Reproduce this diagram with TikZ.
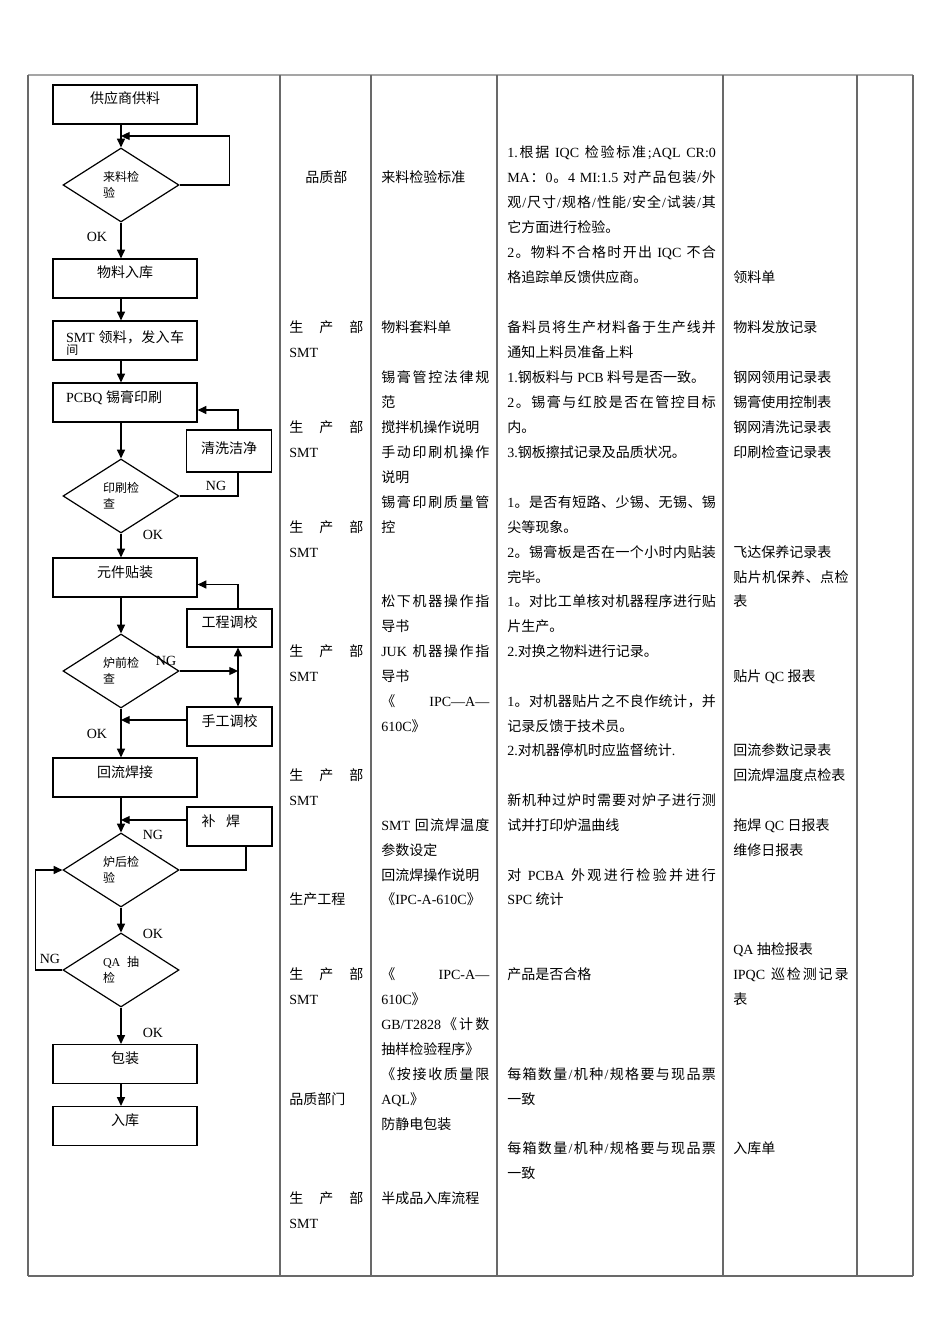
\documentclass[tikz,border=0pt]{standalone}
\usepackage{fontspec}
\setmainfont{Liberation Serif}
\newfontfamily\cjkfont{Noto Sans CJK SC}
\usepackage{xcolor}
\definecolor{grade}{RGB}{105,105,105}
\definecolor{fluxo}{RGB}{0,0,0}
\usepackage{tikz}
\usetikzlibrary{arrows.meta,shapes.geometric,positioning,calc}

\XeTeXinterchartokenstate=1
\newXeTeXintercharclass\cjkcls
\newcount\cjkc
\cjkc="2E80
\loop\XeTeXcharclass\cjkc=\cjkcls \ifnum\cjkc<"9FFF \advance\cjkc by 1 \repeat
\cjkc="FF00
\loop\XeTeXcharclass\cjkc=\cjkcls \ifnum\cjkc<"FFEF \advance\cjkc by 1 \repeat
\XeTeXinterchartoks 0 \cjkcls={\hskip0pt plus 1pt\relax\cjkfont}
\XeTeXinterchartoks 1 \cjkcls={\cjkfont}
\XeTeXinterchartoks 2 \cjkcls={\cjkfont}
\XeTeXinterchartoks 3 \cjkcls={\cjkfont}
\XeTeXinterchartoks 4095 \cjkcls={\cjkfont}
\XeTeXinterchartoks \cjkcls 0={\hskip0pt plus 1pt\relax\rmfamily}
\XeTeXinterchartoks \cjkcls 1={\rmfamily}
\XeTeXinterchartoks \cjkcls 2={\rmfamily}
\XeTeXinterchartoks \cjkcls 3={\rmfamily}
\XeTeXinterchartoks \cjkcls 4095={\rmfamily}
\XeTeXinterchartoks \cjkcls \cjkcls={\hskip0pt plus 1pt\relax}

\newcommand\tabfont{\fontsize{10.5}{18.75}\selectfont}
\newcommand\diafont{\fontsize{9}{12}\selectfont}
\newcommand\jtwo[1]{\makebox[55.5pt][s]{#1}}
\newcommand\jthree[1]{\makebox[81pt][s]{#1}}
\newcommand\jfour[1]{\makebox[156.5pt][s]{#1}}
\newcommand\jfive[1]{\makebox[86.5pt][s]{#1}}

\begin{document}
\begin{tikzpicture}[x=0.75pt,y=-0.75pt,
    grelha/.style={draw=grade, line width=0.8pt},
    caixa/.style={draw=fluxo, line width=0.9pt, minimum width=108pt, minimum height=29.25pt,
      inner sep=0pt, text height=14.25pt, text depth=15pt, font=\tabfont},
    lado/.style={caixa, minimum width=63.75pt},
    losango/.style={diamond, draw=fluxo, line width=0.9pt, minimum width=87pt,
      minimum height=55.5pt, inner sep=0pt, align=left, font=\diafont},
    seta/.style={draw=fluxo, line width=0.9pt, -{Triangle[length=6.5pt,width=6pt]}},
    setas/.style={draw=fluxo, line width=0.9pt,
      {Triangle[length=6.5pt,width=6pt]}-{Triangle[length=6.5pt,width=6pt]}},
    linha/.style={draw=fluxo, line width=0.9pt},
    rotulo/.style={inner sep=0pt, font=\tabfont},
    cel/.style={anchor=base west, inner sep=0pt, font=\tabfont}]
  \useasboundingbox (0,0) rectangle (950,1344);

  \draw[grelha, draw=grade!60] (28,75) -- (913,75);
  \draw[grelha, line width=1.2pt] (28,1276) -- (913,1276);
  \foreach \x in {28,280,371,497,723,857,913}
    \draw[grelha] (\x,75) -- (\x,1276);

  \coordinate (eixo) at (121,0);
  \coordinate (lx) at (238,0);
  \coordinate (bx) at (246,0);

  \node[caixa] (gys) at (125,104.5) {供应商供料};
  \node[losango] (llj) at (121,185) {来料检\\验};
  \node[caixa] (wlrk) at (125,278.5) {物料入库};
  \node[caixa, text height=15.75pt, text depth=13.5pt] (smt) at (125,340.5)
    {\makebox[88.5pt][s]{SMT 领料，发入车}};
  \node[cel, font=\diafont] (smtb) at (66,354.5) {间};
  \node[caixa] (pcb) at (125,402.5) {\makebox[88.5pt][l]{PCBQ 锡膏印刷}};
  \node[losango] (ysjc) at (121,496) {印刷检\\查};
  \node[lado, minimum height=31.5pt, text height=17.25pt, text depth=14.25pt] (qx) at (229,451) {清洗洁净};
  \node[caixa] (yjtz) at (125,577.5) {元件贴装};
  \node[lado, minimum height=28.5pt, text height=13.5pt, text depth=15pt] (gctj) at (229.5,628) {工程调校};
  \node[losango] (lqjc) at (121,671) {炉前检\\查};
  \node[lado] (sgtj) at (229.5,726.5) {手工调校};
  \node[caixa] (hlhj) at (125,777.5) {回流焊接};
  \node[lado] (bh) at (229.5,826.5) {\makebox[42pt][l]{补\hspace{8pt}焊}};
  \node[losango] (lhjy) at (121,870) {炉后检\\验};
  \node[losango] (qacj) at (121,970) {\makebox[27pt][s]{QA 抽}\\检};
  \node[caixa] (bz) at (125,1064) {包装};
  \node[caixa] (rk) at (125,1126) {入库};

  \coordinate (llin) at ($(gys.south -| eixo)!.5!(llj.north)$);
  \draw[seta] (gys.south -| eixo) -- (llj.north);
  \draw[seta] (llj.east) -- ++(50,0) |- (llin);
  \draw[seta] (llj.south) -- (wlrk.north -| eixo);
  \draw[seta] (wlrk.south -| eixo) -- (smt.north -| eixo);
  \draw[seta] (smt.south -| eixo) -- (pcb.north -| eixo);
  \draw[seta] (pcb.south -| eixo) -- (ysjc.north);
  \draw[linha] (ysjc.east) -| (qx.south -| lx);
  \draw[seta] (qx.north -| lx) |- ($(pcb.east)+(0,7.5)$);
  \draw[seta] (ysjc.south) -- (yjtz.north -| eixo);
  \draw[seta] (yjtz.south -| eixo) -- (lqjc.north);
  \draw[seta] (gctj.north -| lx) |- ($(yjtz.east)+(0,7)$);
  \draw[seta] (lqjc.east) -- (lqjc.east -| lx);
  \draw[setas] (gctj.south -| lx) -- (sgtj.north -| lx);
  \draw[seta] ($(sgtj.west)+(0,-6.5)$) coordinate (sgo) -- (sgo -| eixo);
  \draw[seta] (lqjc.south) -- (hlhj.north -| eixo);
  \draw[seta] (hlhj.south -| eixo) -- (lhjy.north);
  \draw[seta] ($(bh.west)+(0,-6.5)$) coordinate (bho) -- (bho -| eixo);
  \draw[linha] (lhjy.east) -| (bh.south -| bx);
  \draw[seta] (lhjy.south) -- (qacj.north);
  \draw[seta] (qacj.west) -- ++(-27,0) |- (lhjy.west);
  \draw[seta] (qacj.south) -- (bz.north -| eixo);
  \draw[seta] (bz.south -| eixo) -- (rk.north -| eixo);

  \foreach \x/\y/\t [count=\i] in {97/237/OK, 216/486/NG, 153/535/OK, 166/661/NG,
    97/734/OK, 153/835/NG, 153/934/OK, 50/959/NG, 153/1033/OK}
    \node[rotulo] (r\i) at (\x,\y) {\t};

  \node[cel] (bm) at (305,183) {品质部};
  \foreach \y/\t [count=\i] in {327/{\jtwo{生产部}}, 352/SMT, 427/{\jtwo{生产部}}, 452/SMT,
    527/{\jtwo{生产部}}, 552/SMT, 651/{\jtwo{生产部}}, 676/SMT, 775/{\jtwo{生产部}}, 800/SMT,
    899/{生产工程}, 974/{\jtwo{生产部}}, 999/SMT, 1099/{品质部门}, 1198/{\jtwo{生产部}}, 1223/SMT}
    \node[cel] (b\i) at (289,{\y+5}) {\t};

  \foreach \y/\t [count=\i] in {178/{来料检验标准}, 327/{物料套料单}, 377/{\jthree{锡膏管控法律规}},
    402/{范}, 427/{搅拌机操作说明}, 452/{\jthree{手动印刷机操作}}, 477/{说明},
    502/{\jthree{锡膏印刷质量管}}, 527/{控}, 601/{\jthree{松下机器操作指}}, 626/{导书},
    651/{\jthree{JUK 机器操作指}}, 676/{导书}, 701/{\jthree{《 IPC—A—}}, 726/{610C》},
    825/{\jthree{SMT 回流焊温度}}, 850/{参数设定}, 875/{回流焊操作说明}, 899/{《IPC-A-610C》},
    974/{\jthree{《 IPC-A—}}, 999/{610C》}, 1024/{\jthree{GB/T2828《计数}},
    1049/{抽样检验程序》}, 1074/{\jthree{《按接收质量限}}, 1099/{AQL》}, 1124/{防静电包装},
    1198/{半成品入库流程}}
    \node[cel] (w\i) at (381,{\y+5}) {\t};

  \foreach \y/\t [count=\i] in {153/{\jfour{1.根据 IQC 检验标准;AQL CR:0}},
    178/{\jfour{MA：0。4 MI:1.5 对产品包装/外}}, 203/{\jfour{观/尺寸/规格/性能/安全/试装/其}},
    228/{它方面进行检验。}, 253/{\jfour{2。物料不合格时开出 IQC 不合}}, 277/{格追踪单反馈供应商。},
    327/{\jfour{备料员将生产材料备于生产线并}}, 352/{通知上料员准备上料},
    377/{1.钢板料与 PCB 料号是否一致。}, 402/{\jfour{2。锡膏与红胶是否在管控目标}}, 427/{内。},
    452/{3.钢板擦拭记录及品质状况。}, 502/{\jfour{1。是否有短路、少锡、无锡、锡}}, 527/{尖等现象。},
    552/{\jfour{2。锡膏板是否在一个小时内贴装}}, 577/{完毕。},
    601/{\jfour{1。对比工单核对机器程序进行贴}}, 626/{片生产。}, 651/{2.对换之物料进行记录。},
    701/{\jfour{1。对机器贴片之不良作统计，并}}, 726/{记录反馈于技术员。},
    750/{2.对机器停机时应监督统计.}, 800/{\jfour{新机种过炉时需要对炉子进行测}},
    825/{试并打印炉温曲线}, 875/{\jfour{对 PCBA 外观进行检验并进行}}, 899/{SPC 统计},
    974/{产品是否合格}, 1074/{\jfour{每箱数量/机种/规格要与现品票}}, 1099/{一致},
    1148/{\jfour{每箱数量/机种/规格要与现品票}}, 1173/{一致}}
    \node[cel] (e\i) at (507,{\y+5}) {\t};

  \foreach \y/\t [count=\i] in {277/{领料单}, 327/{物料发放记录}, 377/{钢网领用记录表},
    402/{锡膏使用控制表}, 427/{钢网清洗记录表}, 452/{印刷检查记录表}, 552/{飞达保养记录表},
    577/{\jfive{贴片机保养、点检}}, 601/{表}, 676/{贴片 QC 报表}, 750/{回流参数记录表},
    775/{回流焊温度点检表}, 825/{拖焊 QC 日报表}, 850/{维修日报表}, 949/{QA 抽检报表},
    974/{\jfive{IPQC 巡检测记录}}, 999/{表}, 1148/{入库单}}
    \node[cel] (j\i) at (733,{\y+5}) {\t};
\end{tikzpicture}
\end{document}
